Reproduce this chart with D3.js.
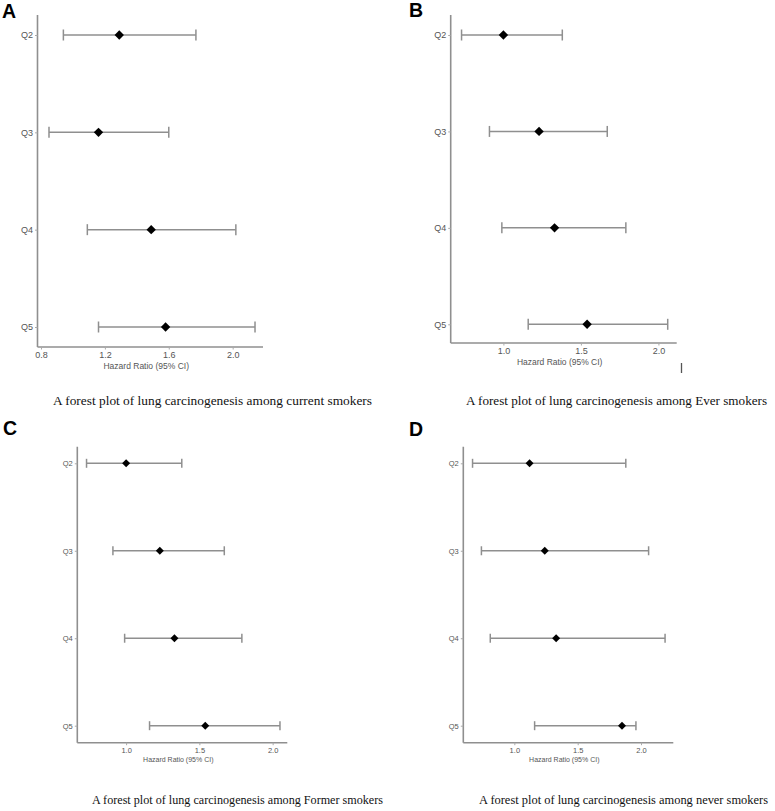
<!DOCTYPE html>
<html>
<head>
<meta charset="utf-8">
<script src="https://cdn.jsdelivr.net/npm/d3@7"></script>
<style>
  body { margin: 0; background: #fff; }
  svg { display: block; }
</style>
</head>
<body>
<div id="chart"></div>
<script>
var svgWidth = 775;
var svgHeight = 811;

// Data
var quartiles = ["Q2", "Q3", "Q4", "Q5"];

var hrCurrent = [1.29, 1.16, 1.49, 1.58];
var loCurrent = [0.94, 0.85, 1.09, 1.16];
var hiCurrent = [1.77, 1.60, 2.02, 2.14];

var hrEver = [1.00, 1.23, 1.33, 1.54];
var loEver = [0.73, 0.91, 0.99, 1.16];
var hiEver = [1.38, 1.67, 1.79, 2.06];

var hrFormer = [1.00, 1.23, 1.33, 1.54];
var loFormer = [0.73, 0.91, 0.99, 1.16];
var hiFormer = [1.38, 1.67, 1.79, 2.05];

var hrNever = [1.12, 1.24, 1.33, 1.85];
var loNever = [0.67, 0.74, 0.81, 1.16];
var hiNever = [1.88, 2.06, 2.19, 1.96];

var ticksCurrent = [0.8, 1.2, 1.6, 2.0];
var ticksOther = [1.0, 1.5, 2.0];

var captions = [
  "A forest plot of lung carcinogenesis among current smokers",
  "A forest plot of lung carcinogenesis among Ever smokers",
  "A forest plot of lung carcinogenesis among Former smokers",
  "A forest plot of lung carcinogenesis among never smokers"
];

// panel layout (pixel positions of each plot area)
var panels = [
  { letter: "A", hr: hrCurrent, lo: loCurrent, hi: hiCurrent, ticks: ticksCurrent,
    domain: [0.778, 2.19], x0: 37.5, x1: 263, top: 15, bottom: 347, r0: 35, r1: 327,
    fs: 9, size: 44, cap: 5.5, letterX: 2, letterY: 18,
    caption: captions[0], capX: 53, capW: 319, capY: 405 },
  { letter: "B", hr: hrEver, lo: loEver, hi: hiEver, ticks: ticksOther,
    domain: [0.66, 2.118], x0: 450.7, x1: 676.7, top: 15, bottom: 343, r0: 35, r1: 324.3,
    fs: 9, size: 44, cap: 5.5, letterX: 409, letterY: 17,
    caption: captions[1], capX: 466, capW: 301, capY: 405 },
  { letter: "C", hr: hrFormer, lo: loFormer, hi: hiFormer, ticks: ticksOther,
    domain: [0.667, 2.10], x0: 77.3, x1: 287.3, top: 446.7, bottom: 742.7, r0: 463.3, r1: 725.7,
    fs: 7.5, size: 32, cap: 4.5, letterX: 3, letterY: 435,
    caption: captions[2], capX: 92, capW: 291, capY: 804 },
  { letter: "D", hr: hrNever, lo: loNever, hi: hiNever, ticks: ticksOther,
    domain: [0.597, 2.255], x0: 463.3, x1: 673.3, top: 446.7, bottom: 742.7, r0: 463.3, r1: 725.7,
    fs: 7.5, size: 32, cap: 4.5, letterX: 409, letterY: 436,
    caption: captions[3], capX: 479, capW: 289, capY: 804 }
];

var svg = d3.select("#chart")
  .append("svg")
  .attr("width", svgWidth)
  .attr("height", svgHeight);

var lineColor = "#8f8f8f";
var textColor = "#555";

panels.forEach(function(p) {
  var g = svg.append("g");

  var xScale = d3.scaleLinear().domain(p.domain).range([p.x0, p.x1]);
  var yScale = d3.scalePoint().domain(quartiles).range([p.r0, p.r1]);

  // axes
  var bottomAxis = d3.axisBottom(xScale)
    .tickValues(p.ticks)
    .tickFormat(d3.format(".1f"))
    .tickSize(2.5)
    .tickPadding(2)
    .tickSizeOuter(0);
  var leftAxis = d3.axisLeft(yScale)
    .tickSize(2.5)
    .tickPadding(2)
    .tickSizeOuter(0);

  var xAxis = g.append("g")
    .attr("transform", `translate(0, ${p.bottom})`)
    .call(bottomAxis);
  xAxis.select(".domain").attr("d", `M${p.x0},0H${p.x1}`);

  var yAxis = g.append("g")
    .attr("transform", `translate(${p.x0}, 0)`)
    .call(leftAxis);
  yAxis.select(".domain").attr("d", `M0,${p.top}V${p.bottom}`);

  g.selectAll(".domain")
    .attr("stroke", lineColor)
    .attr("stroke-width", 1.6);
  g.selectAll(".tick line")
    .attr("stroke", "#aaa")
    .attr("stroke-width", 1);
  g.selectAll(".tick text")
    .attr("fill", textColor)
    .attr("font-family", "Liberation Sans, Arial, sans-serif")
    .attr("font-size", p.fs);

  g.append("text")
    .attr("x", (p.x0 + p.x1) / 2 - 4)
    .attr("y", p.bottom + 2.5 + p.fs * 2.2)
    .attr("text-anchor", "middle")
    .attr("fill", textColor)
    .attr("font-family", "Liberation Sans, Arial, sans-serif")
    .attr("font-size", p.fs - 0.5)
    .text("Hazard Ratio (95% CI)");

  var rows = quartiles.map(function(q, i) {
    return { q: q, hr: p.hr[i], lo: p.lo[i], hi: p.hi[i] };
  });

  // confidence intervals
  g.selectAll(".ci")
    .data(rows)
    .enter()
    .append("line")
    .attr("x1", d => xScale(d.lo))
    .attr("x2", d => xScale(d.hi))
    .attr("y1", d => yScale(d.q))
    .attr("y2", d => yScale(d.q))
    .attr("stroke", lineColor)
    .attr("stroke-width", 1.5);

  ["lo", "hi"].forEach(function(k) {
    g.selectAll(".cap-" + k)
      .data(rows)
      .enter()
      .append("line")
      .attr("x1", d => xScale(d[k]))
      .attr("x2", d => xScale(d[k]))
      .attr("y1", d => yScale(d.q) - p.cap)
      .attr("y2", d => yScale(d.q) + p.cap)
      .attr("stroke", lineColor)
      .attr("stroke-width", 1.5);
  });

  // point estimates
  g.selectAll(".pt")
    .data(rows)
    .enter()
    .append("path")
    .attr("d", d3.symbol(d3.symbolSquare, p.size))
    .attr("transform", d => `translate(${xScale(d.hr)}, ${yScale(d.q)}) rotate(45)`)
    .attr("fill", "#000");

  // panel letter
  svg.append("text")
    .attr("x", p.letterX)
    .attr("y", p.letterY)
    .attr("font-family", "Liberation Sans, Arial, sans-serif")
    .attr("font-weight", "bold")
    .attr("font-size", 19.5)
    .attr("fill", "#000")
    .text(p.letter);

  // caption
  svg.append("text")
    .attr("x", p.capX)
    .attr("y", p.capY)
    .attr("font-family", "Liberation Serif, Times New Roman, serif")
    .attr("font-size", 12.5)
    .attr("fill", "#111")
    .attr("textLength", p.capW)
    .attr("lengthAdjust", "spacingAndGlyphs")
    .text(p.caption);
});

// stray mark under panel B
svg.append("line")
  .attr("x1", 681.5).attr("x2", 681.5)
  .attr("y1", 363).attr("y2", 373)
  .attr("stroke", "#555")
  .attr("stroke-width", 1.3);
</script>
</body>
</html>
